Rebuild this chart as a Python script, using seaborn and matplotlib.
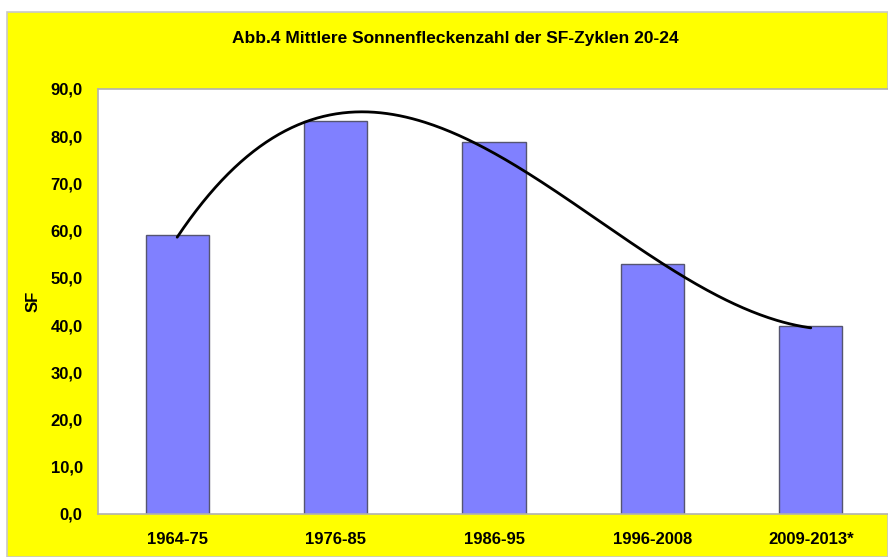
import numpy as np
import pandas as pd
import matplotlib
matplotlib.use("Agg")
import matplotlib.pyplot as plt
from matplotlib.patches import Rectangle
from matplotlib.ticker import FuncFormatter, FixedLocator
import seaborn as sns

# Mittlere Sonnenfleckenzahl je Zyklus
zyklen = ["1964-75", "1976-85", "1986-95", "1996-2008", "2009-2013*"]
sf_werte = [59.0, 83.2, 78.7, 52.9, 39.8]

sns.set_theme(style="white")
plt.rcParams["font.family"] = ["Liberation Sans", "DejaVu Sans"]
plt.rcParams["font.weight"] = "bold"

df = pd.DataFrame({"Zyklus": zyklen, "SF": sf_werte})

fig = plt.figure(figsize=(8.88, 5.57), dpi=100)
fig.patch.set_facecolor("white")

# yellow chart area with thin grey frame
W, H = 888, 557
fig.add_artist(Rectangle((7 / W, 0), (W - 7) / W, (H - 12) / H,
                         transform=fig.transFigure, facecolor="#FFFF00",
                         edgecolor="#C8C8C8", linewidth=1.2, zorder=-5))

ax = fig.add_axes([98 / W, 43 / H, 792 / W, 425 / H])
ax.set_zorder(2)
ax.set_facecolor("white")

sns.barplot(data=df, x="Zyklus", y="SF", color="#8080FF", saturation=1,
            width=0.4, edgecolor="#555570", linewidth=1.0, ax=ax)

# polynomial trend line (3rd order) like the spreadsheet trendline
xs = np.arange(len(sf_werte))
coef = np.polyfit(xs, sf_werte, 3)
xx = np.linspace(0, len(sf_werte) - 1, 300)
ax.plot(xx, np.polyval(coef, xx), color="black", linewidth=2.0)

ax.set_xlim(-0.5, len(zyklen) - 0.5)
ax.set_ylim(0, 90)
ax.set_yticks(np.arange(0, 91, 10))
ax.yaxis.set_major_formatter(FuncFormatter(lambda v, p: f"{v:.1f}".replace(".", ",")))

ax.tick_params(axis="y", length=0, pad=11, labelsize=12, colors="black")
ax.tick_params(axis="x", which="major", length=0, pad=13, labelsize=12, colors="black")
ax.xaxis.set_minor_locator(FixedLocator(np.arange(-0.5, len(zyklen), 1.0)))
ax.tick_params(axis="x", which="minor", length=3, color="#C8C8C8", width=1)

for lbl in ax.get_xticklabels() + ax.get_yticklabels():
    lbl.set_fontweight("bold")

for side in ["top", "left", "bottom"]:
    ax.spines[side].set_color("#B0B0B0")
    ax.spines[side].set_linewidth(1.2)
ax.spines["right"].set_visible(False)

ax.set_xlabel("")
ax.set_ylabel("SF", fontsize=12, fontweight="bold", color="black", labelpad=7)

fig.text(0.513, 1 - 38 / H, "Abb.4 Mittlere Sonnenfleckenzahl der SF-Zyklen 20-24",
         ha="center", va="center", fontsize=12.5, fontweight="bold", color="black")

fig.savefig("out.png", dpi=100)
